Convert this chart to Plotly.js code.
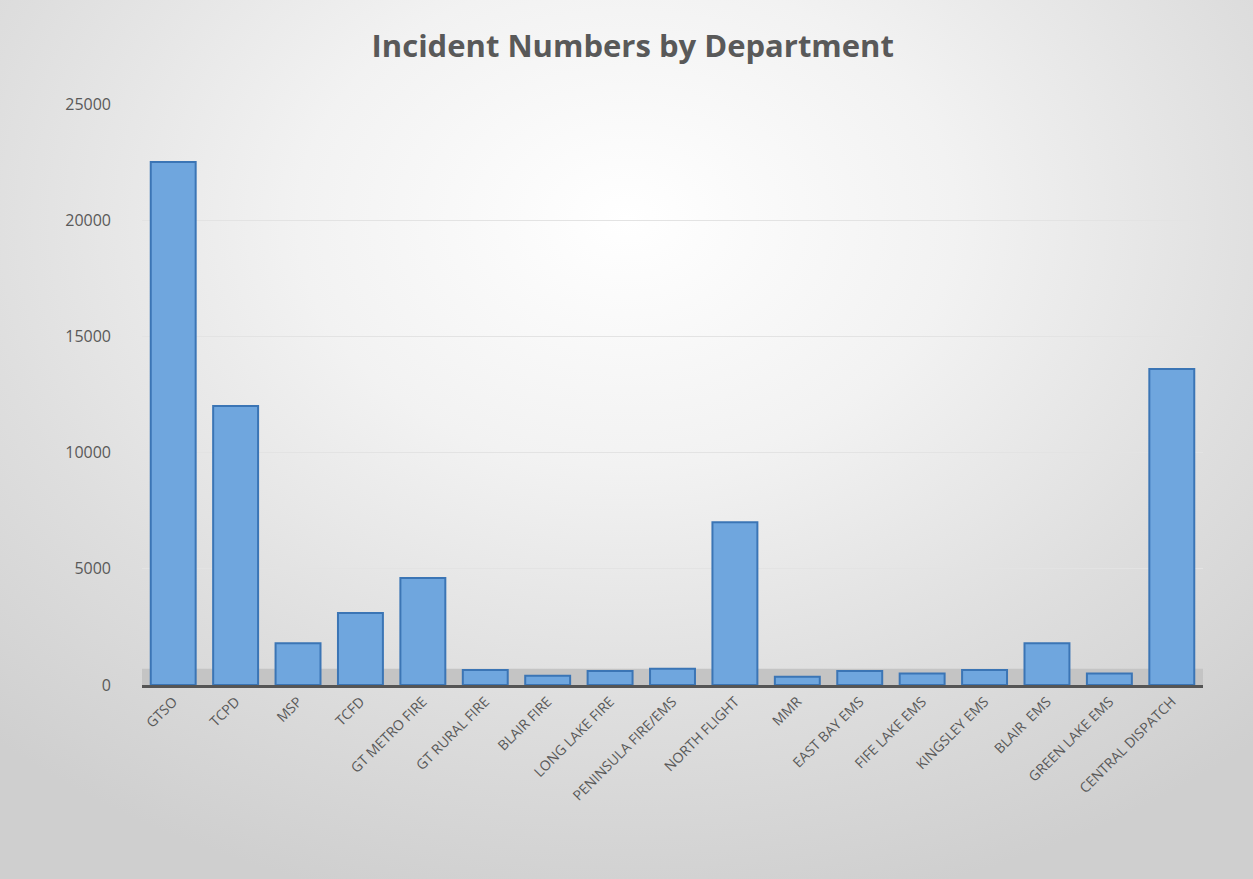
<!DOCTYPE html>
<html>
<head>
<meta charset="utf-8">
<script src="https://cdn.plot.ly/plotly-3.0.1.min.js"></script>
<style>
  html, body { margin: 0; padding: 0; }
  body { width: 1253px; height: 879px; overflow: hidden;
    background: radial-gradient(ellipse 75% 80% at 50% 25%, #ffffff 0%, #f2f2f2 35%, #dedede 70%, #cfcfcf 100%); }
  #chart { width: 1253px; height: 879px; }
</style>
</head>
<body>
<div id="chart"></div>
<script>
const departments = ["GTSO", "TCPD", "MSP", "TCFD", "GT METRO FIRE", "GT RURAL FIRE", "BLAIR FIRE",
  "LONG LAKE FIRE", "PENINSULA FIRE/EMS", "NORTH FLIGHT", "MMR", "EAST BAY EMS", "FIFE LAKE EMS",
  "KINGSLEY EMS", "BLAIR  EMS", "GREEN LAKE EMS", "CENTRAL DISPATCH"];
const incidents = [22500, 12000, 1800, 3100, 4600, 650, 400, 600, 700, 7000, 350, 600, 500, 650, 1800, 500, 13600];
const yTicks = [0, 5000, 10000, 15000, 20000, 25000];

const trace = {
  type: "bar",
  x: departments,
  y: incidents,
  marker: { color: "#6fa6de", line: { color: "#3b75b5", width: 2 } },
  hoverinfo: "x+y"
};

const layout = {
  width: 1253, height: 879,
  paper_bgcolor: "rgba(0,0,0,0)",
  plot_bgcolor: "rgba(0,0,0,0)",
  margin: { l: 142, r: 50, t: 104, b: 194 },
  title: { text: "<b>Incident Numbers by Department</b>", x: 0.505, xanchor: "center", y: 0.948, yanchor: "middle",
    font: { family: "Open Sans, sans-serif", size: 31, color: "#595959" } },
  bargap: 0.28,
  showlegend: false,
  xaxis: {
    type: "category",
    tickangle: -45,
    tickfont: { family: "Open Sans, sans-serif", size: 14, color: "#595959" },
    showline: true, linecolor: "#555555", linewidth: 3,
    ticks: "", showgrid: false, fixedrange: true
  },
  yaxis: {
    range: [0, 25000],
    tickvals: yTicks,
    ticktext: yTicks.map(String),
    tickfont: { family: "Open Sans, sans-serif", size: 16, color: "#595959" },
    gridcolor: "#e3e3e3", gridwidth: 1,
    zeroline: false, showline: false, ticks: "", ticklabelstandoff: 30, fixedrange: true
  },
  shapes: [
    { type: "rect", xref: "paper", yref: "y", x0: 0, x1: 1.0, y0: 0, y1: 700,
      fillcolor: "#c4c4c4", line: { width: 0 }, layer: "below" }
  ]
};

Plotly.newPlot("chart", [trace], layout, { displayModeBar: false, staticPlot: true });
</script>
</body>
</html>
